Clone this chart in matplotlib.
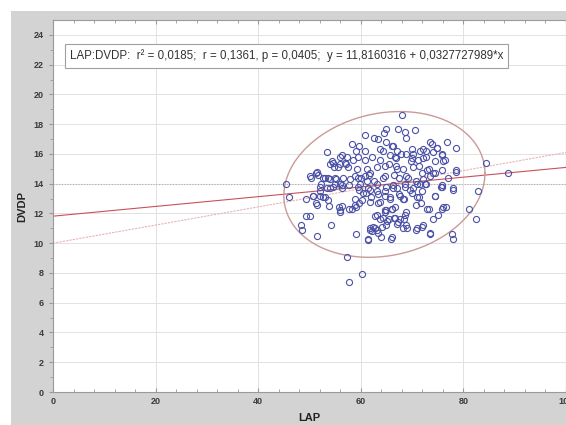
import numpy as np
import matplotlib.pyplot as plt
from matplotlib.patches import Rectangle

plt.rcParams['font.family'] = ['Liberation Sans', 'DejaVu Sans']

# LAP / DVDP values
lap = [68.1, 64.9, 67.2, 68.6, 70.6, 60.9, 62.5, 63.4, 64.6, 68.8,
       58.3, 59.7, 59.0, 63.7, 65.0, 66.2, 67.1, 67.9, 73.4, 73.9,
       76.8, 78.6, 74.9, 53.4, 60.8, 64.4, 68.9, 70.2, 71.5, 72.8,
       74.1, 75.9, 55.9, 57.3, 54.6, 56.9, 58.5, 59.5, 60.8, 62.2,
       63.8, 65.6, 66.8, 69.7, 71.2, 72.7, 74.4, 76.0, 84.5, 54.0,
       55.6, 57.5, 59.2, 61.2, 63.1, 64.7, 66.9, 68.2, 71.4, 72.9,
       74.4, 78.5, 51.4, 50.2, 51.6, 52.6, 53.6, 55.1, 56.6, 57.9,
       59.5, 60.8, 61.6, 61.2, 62.5, 64.7, 66.4, 67.5, 69.2, 70.7,
       72.1, 73.4, 77.0, 45.5, 52.3, 53.4, 54.9, 55.9, 57.7, 59.8,
       61.4, 63.2, 65.0, 67.0, 68.6, 70.1, 71.6, 72.7, 75.7, 78.0,
       82.9, 46.0, 49.3, 50.7, 52.1, 52.7, 53.6, 51.4, 53.8, 55.8,
       55.9, 57.7, 59.0, 58.8, 60.5, 61.9, 63.4, 63.8, 65.6, 67.5,
       68.4, 69.9, 70.8, 71.4, 72.9, 74.4, 75.9, 76.6, 81.0, 49.4,
       54.2, 48.4, 48.6, 51.5, 59.0, 61.4, 62.7, 63.7, 64.7, 66.0,
       66.4, 65.1, 67.2, 68.4, 68.7, 69.0, 64.2, 62.7, 61.8, 63.4,
       64.0, 65.9, 70.8, 71.9, 73.4, 74.1, 75.1, 77.7, 78.0, 82.4,
       57.3, 60.3, 57.7, 88.7,
       54.3, 56.3, 54.8, 55.9, 57.1, 50.1, 51.3, 53.0, 54.0, 55.0,
       58.9, 60.0, 61.8, 64.4, 54.6, 56.3, 59.5, 61.8,
       66.0, 69.9, 72.1, 74.8, 75.8, 76.4, 72.2, 69.9, 66.7, 65.4,
       67.0, 70.2, 73.2, 75.8, 74.1, 78.6, 68.9, 71.9, 70.9, 72.5,
       66.3, 68.6, 75.8,
       50.7, 52.0, 53.0, 51.3, 50.0, 55.9, 56.3, 58.2, 58.9, 59.7,
       61.5, 61.8, 62.4, 63.1, 62.1, 63.1, 65.0, 52.0, 54.0, 56.3,
       59.7, 61.1, 63.2, 64.7, 60.2, 61.8, 63.4,
       73.5, 71.0, 72.1, 66.0, 76.1, 71.7, 73.2, 74.5, 75.8, 78.0,
       64.4, 65.4, 66.7, 67.6, 68.8, 64.9, 67.0, 68.3, 66.0, 66.7,
       64.7, 68.9, 65.6, 67.6, 68.3, 69.6, 71.9, 64.7, 66.3, 70.9]
dvdp = [18.6, 17.7, 17.7, 17.5, 17.6, 17.3, 17.1, 17.0, 17.4, 17.1,
        16.7, 16.5, 16.2, 16.3, 16.8, 16.5, 16.2, 16.0, 16.8, 16.7,
        16.8, 16.4, 16.4, 16.1, 16.2, 16.2, 16.0, 16.0, 16.2, 16.2,
        16.1, 16.0, 15.8, 15.8, 15.4, 15.4, 15.6, 15.8, 15.6, 15.8,
        15.6, 15.9, 15.7, 15.5, 15.6, 15.8, 15.5, 15.5, 15.4, 15.3,
        15.1, 15.1, 15.0, 15.0, 15.1, 15.2, 15.2, 15.0, 15.2, 14.9,
        14.7, 14.8, 14.8, 14.4, 14.6, 14.4, 14.4, 14.3, 14.4, 14.3,
        14.4, 14.5, 14.6, 14.2, 14.2, 14.5, 14.6, 14.4, 14.4, 14.2,
        14.3, 14.5, 14.4, 14.0, 14.0, 13.7, 14.0, 14.0, 13.9, 14.0,
        13.7, 14.0, 13.8, 13.7, 14.0, 13.7, 14.0, 14.0, 13.8, 13.6,
        13.5, 13.1, 13.0, 13.2, 13.5, 13.1, 12.9, 12.6, 12.5, 12.4,
        12.1, 12.3, 12.4, 13.0, 13.4, 13.1, 13.3, 12.8, 13.1, 13.3,
        13.0, 13.4, 12.6, 13.1, 12.3, 13.2, 12.3, 12.4, 12.3, 11.8,
        11.2, 11.2, 10.9, 10.5, 10.6, 10.2, 11.8, 11.6, 12.2, 12.3,
        11.7, 11.5, 11.4, 11.6, 11.9, 11.0, 11.1, 11.0, 10.9, 10.7,
        10.4, 10.3, 10.9, 11.1, 10.6, 11.6, 11.9, 10.6, 10.3, 11.6,
        9.1, 7.9, 7.4, 14.7,
        15.5, 15.9, 15.1, 15.3, 15.3, 14.5, 14.7, 14.4, 14.3, 14.4,
        14.5, 14.4, 14.7, 14.4, 13.8, 13.9, 13.8, 13.6,
        16.5, 16.3, 16.3, 16.4, 15.9, 15.6, 15.7, 15.7, 15.8, 15.3,
        15.0, 15.1, 15.0, 14.9, 14.7, 14.9, 14.5, 14.7, 14.0, 14.0,
        13.9, 13.8, 13.9,
        13.2, 13.2, 13.1, 12.7, 11.8, 12.2, 12.5, 12.3, 12.6, 12.7,
        10.3, 11.0, 11.1, 10.9, 10.8, 11.9, 12.2, 13.8, 13.7, 13.7,
        13.6, 13.4, 13.5, 13.2, 12.9, 12.8, 12.7,
        10.7, 11.0, 11.2, 10.4, 12.4, 12.7, 12.3, 13.2, 13.8, 13.7,
        11.7, 11.6, 11.7, 11.6, 11.2, 11.2, 11.3, 11.0, 12.3, 12.4,
        12.1, 12.1, 13.0, 13.2, 13.0, 13.6, 13.5, 13.5, 13.7, 13.1]

# fit results shown in the box
b0 = 11.8160316
b1 = 0.0327727989
# second (dotted) line
b0_2 = 10.0
b1_2 = 0.061
mean_y = 13.95
# ellipse: centre and two conjugate half axes
ell_c = (64.6, 13.95)
ell_a = (19.6, 0.75)
ell_b = (0.0, 4.84)

fig = plt.figure(figsize=(5.66, 4.25), dpi=100)
fig.patches.append(Rectangle((11/566, 0), 1, 414/425, transform=fig.transFigure,
                             facecolor='#d3d3d3', edgecolor='none', zorder=-5))
ax = fig.add_axes([53/566, 1-392/425, 513/566, 372/425])
ax.set_facecolor('white')

ax.grid(True, color='#e2e2e2', lw=0.7)
ax.set_axisbelow(True)

xx = np.array([0, 100])
ax.axhline(mean_y, color='#b0b0b0', lw=0.8, ls=(0, (1, 1.5)))
ax.plot(xx, b0_2 + b1_2*xx, color='#e6b4b4', lw=0.8, ls=(0, (2, 1)))
ax.plot(xx, b0 + b1*xx, color='#c9505a', lw=0.8)

t = np.linspace(0, 2*np.pi, 300)
ax.plot(ell_c[0] + ell_a[0]*np.cos(t) + ell_b[0]*np.sin(t),
        ell_c[1] + ell_a[1]*np.cos(t) + ell_b[1]*np.sin(t),
        color='#c99a98', lw=1.0)

ax.plot(lap, dvdp, 'o', mfc='none', mec='#4b52a6', ms=4.4, mew=0.8)

ax.set_xlim(0, 100)
ax.set_ylim(0, 25)
ax.set_xticks(np.arange(0, 101, 20))
ax.set_yticks(np.arange(0, 25, 2))
ax.set_xticks(np.arange(0, 101, 4), minor=True)
ax.set_yticks(np.arange(0, 25, 1), minor=True)
ax.tick_params(axis='x', which='both', direction='in', top=True, colors='#999999',
               labelcolor='#3a3a3a', labelsize=6.5, length=3)
ax.tick_params(axis='x', which='minor', length=2)
ax.tick_params(axis='y', which='both', direction='out', colors='#999999',
               labelcolor='#3a3a3a', labelsize=6.5, length=3)
ax.tick_params(axis='y', which='minor', length=2)
for lbl in ax.get_xticklabels() + ax.get_yticklabels():
    lbl.set_fontweight('bold')
for s in ax.spines.values():
    s.set_color('#9a9a9a')
    s.set_linewidth(0.8)

ax.set_xlabel('LAP', fontsize=8, fontweight='bold', color='#222222', labelpad=5)
ax.set_ylabel('DVDP', fontsize=8, fontweight='bold', color='#222222', labelpad=5)

ax.text(0.033, 0.903,
        'LAP:DVDP:  r² = 0,0185;  r = 0,1361, p = 0,0405;  y = 11,8160316 + 0,0327727989*x',
        transform=ax.transAxes, fontsize=8.3, color='#333333', va='center', ha='left',
        bbox=dict(boxstyle='square,pad=0.45', fc='white', ec='#a0a0a0', lw=0.8))

fig.savefig('out.png', dpi=100)
